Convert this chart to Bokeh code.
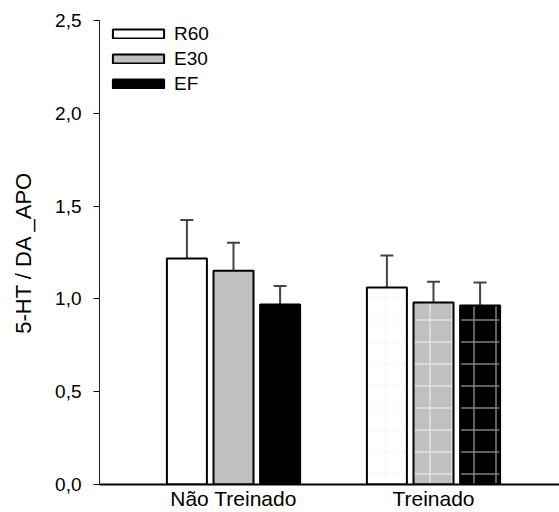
from bokeh.plotting import figure
from bokeh.models import (ColumnDataSource, FixedTicker, CustomJSTickFormatter, Range1d,
                          Whisker, TeeHead, Legend, LegendItem)
from bokeh.embed import file_html
from bokeh.resources import INLINE

groups = ["Não Treinado", "Treinado"]
series = ["R60", "E30", "EF"]
r60 = [1.217, 1.062]
e30 = [1.151, 0.980]
ef = [0.970, 0.964]
r60_err = [0.208, 0.172]
e30_err = [0.152, 0.113]
ef_err = [0.100, 0.124]
y_ticks = [0.0, 0.5, 1.0, 1.5, 2.0, 2.5]

fills = {"R60": "#ffffff", "E30": "#c0c0c0", "EF": "#000000"}
hatch_cols = {"R60": "#f7f7f7", "E30": "#e4e4e4", "EF": "#808080"}
offsets = {"R60": -0.233, "E30": 0.0, "EF": 0.233}
vals = {"R60": r60, "E30": e30, "EF": ef}
errs = {"R60": r60_err, "E30": e30_err, "EF": ef_err}

p = figure(width=559, height=512, output_backend="svg", toolbar_location=None,
           x_range=Range1d(0.33, 2.63), y_range=Range1d(0, 2.5),
           min_border_left=99, min_border_right=0, min_border_top=20, min_border_bottom=27)
p.xgrid.visible = False
p.ygrid.visible = False
p.outline_line_color = None

font = "Liberation Sans"
legend_items = []
for s in series:
    xs_nt = [1 + offsets[s]]
    xs_t = [2 + offsets[s]]
    r = p.vbar(x=xs_nt, top=[vals[s][0]], width=0.2, fill_color=fills[s],
               line_color="black", line_width=2)
    p.vbar(x=xs_t, top=[vals[s][1]], width=0.2, fill_color=fills[s],
           line_color="black", line_width=2, hatch_pattern="+", hatch_color=hatch_cols[s],
           hatch_scale=22, hatch_weight=1.5)
    legend_items.append(LegendItem(label=s, renderers=[r]))
    src = ColumnDataSource(dict(x=[1 + offsets[s], 2 + offsets[s]],
                                lo=vals[s], hi=[v + e for v, e in zip(vals[s], errs[s])]))
    w = Whisker(base="x", lower="lo", upper="hi", source=src, dimension="height",
                line_color="#444444", line_width=2,
                upper_head=TeeHead(size=13, line_color="#444444", line_width=2),
                lower_head=None)
    p.add_layout(w)

legend = Legend(items=legend_items, location=(7, 388), orientation="vertical",
                glyph_width=64, glyph_height=11, label_height=25, spacing=0,
                label_standoff=4, padding=0, margin=0,
                border_line_color=None, background_fill_alpha=0,
                label_text_font=font, label_text_font_size="19px",
                label_text_color="black")
p.add_layout(legend, "center")

p.yaxis.ticker = FixedTicker(ticks=y_ticks)
p.yaxis.formatter = CustomJSTickFormatter(code="return tick.toFixed(1).replace('.', ',');")
p.yaxis.axis_label = "5-HT / DA _APO"
p.yaxis.axis_label_text_font = font
p.yaxis.axis_label_text_font_style = "normal"
p.yaxis.axis_label_text_font_size = "22px"
p.yaxis.axis_label_text_color = "black"
p.yaxis.axis_label_standoff = 16
p.yaxis.major_label_text_font = font
p.yaxis.major_label_text_font_size = "19px"
p.yaxis.major_label_text_color = "black"
p.yaxis.major_label_standoff = 12
p.yaxis.major_tick_out = 6
p.yaxis.major_tick_in = 0
p.yaxis.minor_tick_out = 0
p.yaxis.minor_tick_in = 0
p.yaxis.axis_line_color = "#222222"

p.xaxis.ticker = FixedTicker(ticks=[1, 2])
p.xaxis.major_label_overrides = {1: groups[0], 2: groups[1]}
p.xaxis.major_label_text_font = font
p.xaxis.major_label_text_font_size = "21px"
p.xaxis.major_label_text_color = "black"
p.xaxis.major_label_standoff = 2
p.xaxis.major_tick_out = 0
p.xaxis.major_tick_in = 0
p.xaxis.minor_tick_out = 0
p.xaxis.minor_tick_in = 0
p.xaxis.axis_line_width = 2
p.xaxis.axis_line_color = "black"

open("out.html", "w").write(file_html(p, INLINE))
